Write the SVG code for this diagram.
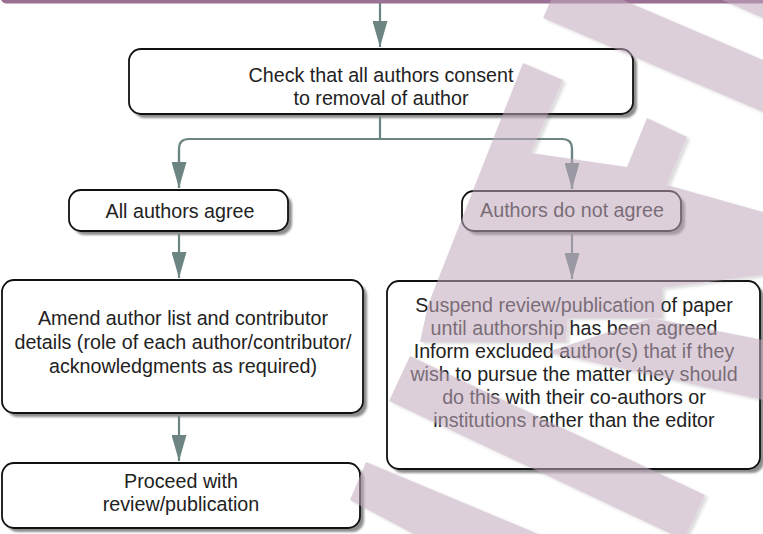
<svg xmlns="http://www.w3.org/2000/svg" width="763" height="534" viewBox="0 0 763 534">
<defs>
<style>
.box{fill:#fff;stroke:#111;stroke-width:1.8}
.sh{fill:#8c8c8c}
.t{font-family:"Liberation Sans",Arial,sans-serif;font-size:19.7px;fill:#222;text-anchor:middle}
.con{fill:none;stroke:#6c8583;stroke-width:2.2}
.wm{fill:#c1a9bc}
</style>
<marker id="ah" markerUnits="userSpaceOnUse" viewBox="0 0 26 15" markerWidth="26" markerHeight="15" refX="26" refY="7.5" orient="auto">
<path d="M0,0 L26,7.5 L0,15 Z" fill="#6c8583"/>
</marker>
<filter id="blur1" x="-5%" y="-5%" width="110%" height="110%"><feGaussianBlur stdDeviation="0.8"/></filter>
<filter id="wsh" filterUnits="userSpaceOnUse" x="0" y="0" width="763" height="534">
<feGaussianBlur in="SourceAlpha" stdDeviation="1.5"/>
<feOffset dx="3" dy="2" result="b"/>
<feComposite in="b" in2="SourceAlpha" operator="out" result="o"/>
<feFlood flood-color="#6e6e6e" flood-opacity="0.45"/>
<feComposite in2="o" operator="in" result="s"/>
<feMerge><feMergeNode in="s"/><feMergeNode in="SourceGraphic"/></feMerge>
</filter>
</defs>
<rect width="763" height="534" fill="#fff"/>
<g id="topbar">
<rect x="1" y="-12" width="800" height="15.5" rx="5" fill="#9a7094"/>
</g>
<g id="connectors">
<path class="con" d="M380,3 V47" marker-end="url(#ah)"/>
<path class="con" d="M380,114 V139"/>
<path class="con" d="M179,188 V149 Q179,139 189,139 H562 Q572,139 572,149 V189" />
<path class="con" d="M179,149 V188" marker-end="url(#ah)"/>
<path class="con" d="M572,149 V189" marker-end="url(#ah)"/>
<path class="con" d="M179,232 V278" marker-end="url(#ah)"/>
<path class="con" d="M572,232 V279" marker-end="url(#ah)"/>
<path class="con" d="M179,415 V461" marker-end="url(#ah)"/>
</g>
<g id="n-check">
<rect class="sh" x="133" y="53" width="504" height="65" rx="12" filter="url(#blur1)"/>
<rect class="box" x="129" y="49" width="504" height="65" rx="12"/>
<text class="t" x="381" y="81.5">Check that all authors consent</text>
<text class="t" x="381" y="105">to removal of author</text>
</g>
<g id="n-agree">
<rect class="sh" x="73" y="194" width="219" height="41" rx="12" filter="url(#blur1)"/>
<rect class="box" x="69" y="190" width="219" height="41" rx="12"/>
<text class="t" x="180" y="218">All authors agree</text>
</g>
<g id="n-disagree">
<rect class="sh" x="466" y="195" width="219" height="40" rx="12" filter="url(#blur1)"/>
<rect class="box" x="462" y="191" width="219" height="40" rx="12"/>
<text class="t" x="572" y="217">Authors do not agree</text>
</g>
<g id="n-amend">
<rect class="sh" x="6" y="284" width="361" height="133" rx="12" filter="url(#blur1)"/>
<rect class="box" x="2" y="280" width="361" height="133" rx="12"/>
<text class="t" x="183" y="325">Amend author list and contributor</text>
<text class="t" x="183" y="349">details (role of each author/contributor/</text>
<text class="t" x="183" y="373">acknowledgments as required)</text>
</g>
<g id="n-proceed">
<rect class="sh" x="6" y="467" width="358" height="65" rx="12" filter="url(#blur1)"/>
<rect class="box" x="2" y="463" width="358" height="65" rx="12"/>
<text class="t" x="181" y="488">Proceed with</text>
<text class="t" x="181" y="511">review/publication</text>
</g>
<g id="n-suspend">
<rect class="sh" x="391" y="285" width="373" height="188" rx="12" filter="url(#blur1)"/>
<rect class="box" x="387" y="281" width="373" height="188" rx="12"/>
<text class="t" x="574" y="312">Suspend review/publication of paper</text>
<text class="t" x="574" y="335">until authorship has been agreed</text>
<text class="t" x="574" y="358">Inform excluded author(s) that if they</text>
<text class="t" x="574" y="381">wish to pursue the matter they should</text>
<text class="t" x="574" y="404">do this with their co-authors or</text>
<text class="t" x="574" y="427">institutions rather than the editor</text>
</g>
<g id="watermark" opacity="0.55" filter="url(#wsh)">
<polygon class="wm" points="551,0 623,0 763,60 763,112 543,18"/>
<polygon class="wm" points="722,0 763,0 763,18"/>
<polygon class="wm" points="523,63 563,80 531,153 627,167 647,118 687,137 667,185 763,212 763,275 662,288 662,318 568,318 566,342 420,342 428,305"/>
<polygon class="wm" points="652,318 763,340 763,400 547,352"/>
<polygon class="wm" points="410,356 705,495 684,540 389,401"/>
<polygon class="wm" points="366,462 560,543 430,543 350,500"/>
</g>
</svg>
